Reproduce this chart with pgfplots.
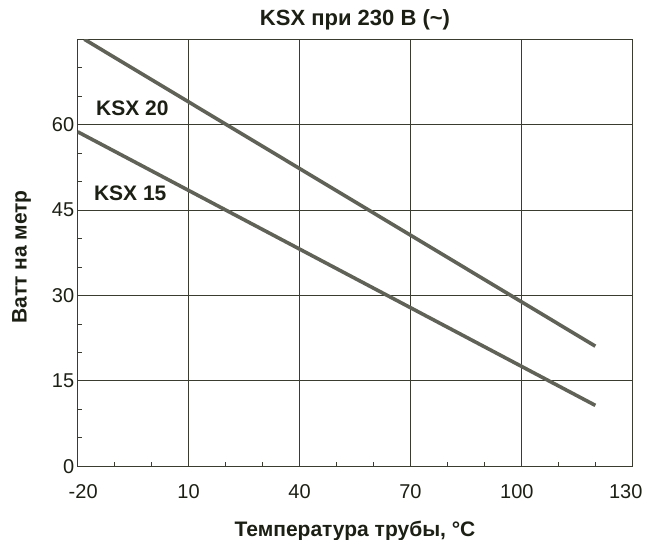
\documentclass[border=0pt]{standalone}
\usepackage{fontspec}
\setmainfont{Liberation Sans}
\usepackage{pgfplots}
\pgfplotsset{compat=1.18}
\definecolor{linec}{RGB}{96,98,88}
\definecolor{gridc}{RGB}{58,60,48}
\definecolor{txtc}{RGB}{28,31,20}
\begin{document}
\begin{tikzpicture}
\begin{axis}[
  scale only axis,
  width=554.6pt, height=427pt,
  xmin=-20, xmax=130, ymin=0, ymax=75,
  xtick={-20,10,40,70,100,130},
  xticklabels={\hspace*{11pt}-20,10,40,70,100\hspace*{9pt},130\hspace*{13pt}},
  ytick={0,15,30,45,60},
  minor xtick={-10,0,20,30,50,60,80,90,110,120},
  minor ytick={5,10,20,25,35,40,50,55,65,70},
  xtick pos=bottom, ytick pos=left,
  tick align=inside,
  major tick length=0pt,
  minor tick length=4pt,
  grid=major,
  major grid style={draw=gridc, line width=1.2pt},
  minor tick style={draw=gridc, line width=0.9pt},
  axis line style={draw=gridc, line width=1.2pt},
  /pgf/number format/assume math mode=true,
  ticklabel style={font=\fontsize{20}{20}\selectfont, text=txtc},
  xticklabel style={yshift=-15pt},
  title={KSX при 230 В (\textasciitilde)},
  title style={font=\fontsize{22}{22}\selectfont\bfseries, text=txtc, at={(axis description cs:0.5,1)}, anchor=base, yshift=8pt},
  xlabel={Температура трубы, °C},
  xlabel style={font=\fontsize{21}{21}\selectfont\bfseries, text=txtc, at={(axis description cs:0.5,0)}, anchor=base, yshift=-70pt},
  ylabel={Ватт на метр},
  ylabel style={font=\fontsize{21}{21}\selectfont\bfseries, text=txtc, at={(axis description cs:-0.092,0.49)}, anchor=base},
  clip=true,
]
\addplot[draw=linec, line width=3.6pt, line cap=butt] coordinates {(-18.2,75) (120,21.1)};
\addplot[draw=linec, line width=3.6pt, line cap=butt] coordinates {(-20,58.75) (120,10.7)};
\node[font=\fontsize{21}{21}\selectfont\bfseries, text=txtc] at (axis cs:-5.2,62.85) {KSX 20};
\node[font=\fontsize{21}{21}\selectfont\bfseries, text=txtc] at (axis cs:-5.8,47.9) {KSX 15};
\coordinate (sw) at (rel axis cs:0,0);
\end{axis}
\pgfresetboundingbox
\path ([shift={(-77.7pt,-73.7pt)}]sw) rectangle ++(645pt,540pt);
\end{tikzpicture}
\end{document}
